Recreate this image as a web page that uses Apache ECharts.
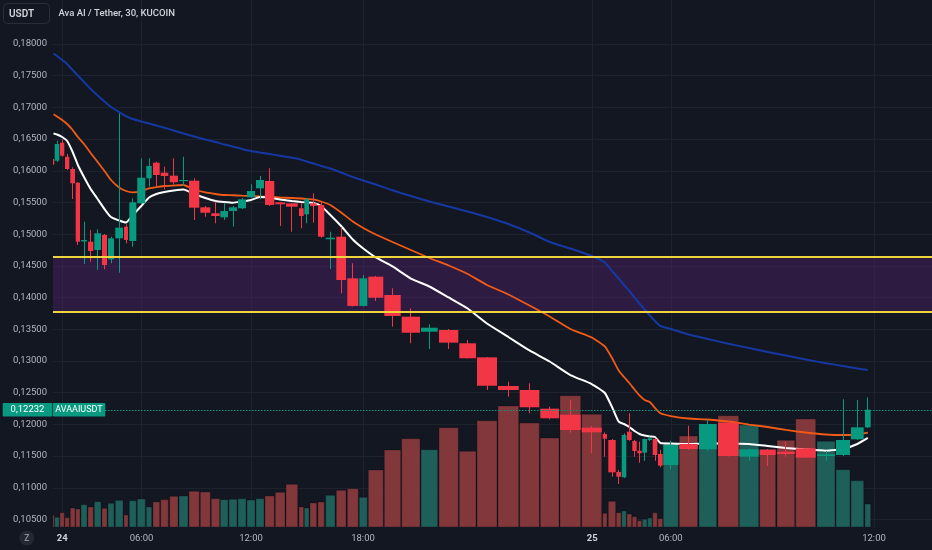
<!DOCTYPE html>
<html><head><meta charset="utf-8">
<script src="https://cdn.jsdelivr.net/npm/echarts@6/dist/echarts.min.js"></script>
<style>html,body{margin:0;padding:0;background:#131722;}#c{width:932px;height:550px;}</style>
</head><body><div id="c"></div>
<script>
// Bar slot positions along the (irregular) horizontal axis, left and right edges
const barLeft = [52.7,54.7,60,65,70.3,75.7,81,88,94.3,102,108,115.3,124,129.3,137.3,146.3,153,160.7,169.7,179,189,200.3,211.3,220.3,229,238,247,256,265,275.3,286,299,304.3,310,318,325.7,336.3,347.3,359.3,368.3,384.3,401.7,421,439,459.3,477,498,519.7,540.3,560,581.7,602.7,608.3,616.3,621.7,627,632.3,637.3,642.3,647.7,652.7,658,663.3,679.3,699,718,739.3,759.7,777,795.7,817,836,851,865];
const barRight = [54.3,59.3,64.3,69.3,75,80,87,93.3,101,107,114,123,128,136.3,145.3,151.7,159.7,168.3,178,188,199.3,210.3,219.7,228,237,246,255,264,274.3,285,297.7,303.7,309,316.7,324.3,335,346,358.3,367.3,383.3,400.7,420,437.7,458.3,476,497,518.7,539.3,559,580.7,601.7,607,615.7,621,626.3,631.7,636.7,641.7,647,652,657.3,662.7,678.3,697.7,716.7,738.7,758.7,775.7,794.7,815.7,835,850,863.7,870.7];

const open = [0.16170,0.16159,0.16443,0.16222,0.16028,0.15812,0.14885,0.14882,0.14751,0.14987,0.14604,0.14935,0.15118,0.14893,0.15487,0.15882,0.16128,0.15970,0.15923,0.15839,0.15844,0.15424,0.15330,0.15267,0.15366,0.15409,0.15582,0.15724,0.15839,0.15503,0.15487,0.15409,0.15314,0.15487,0.15461,0.14920,0.14961,0.14304,0.13868,0.14330,0.14041,0.13699,0.13462,0.13489,0.13279,0.13058,0.12606,0.12543,0.12248,0.12153,0.11948,0.11849,0.11754,0.11249,0.11166,0.11885,0.11738,0.11585,0.11554,0.11754,0.11770,0.11533,0.11360,0.11691,0.11607,0.12027,0.11491,0.11601,0.11569,0.11623,0.11502,0.11517,0.11765,0.11954];
const close = [0.16107,0.16423,0.16238,0.16028,0.15803,0.14882,0.14909,0.14735,0.15014,0.14514,0.14935,0.15103,0.14909,0.15503,0.15891,0.16076,0.15934,0.15918,0.15819,0.15855,0.15418,0.15339,0.15287,0.15366,0.15424,0.15550,0.15681,0.15855,0.15461,0.15472,0.15434,0.15287,0.15550,0.15445,0.14961,0.14945,0.14278,0.13868,0.14304,0.13998,0.13710,0.13446,0.13525,0.13289,0.13043,0.12610,0.12543,0.12270,0.12096,0.11912,0.11875,0.11774,0.11244,0.11175,0.11833,0.11754,0.11580,0.11544,0.11770,0.11781,0.11517,0.11349,0.11675,0.11612,0.12006,0.11502,0.11607,0.11517,0.11533,0.11475,0.11528,0.11754,0.11954,0.12232];
const low = [0.16092,0.16139,0.16222,0.16013,0.15555,0.14830,0.14530,0.14566,0.14435,0.14446,0.14541,0.14393,0.14856,0.14803,0.15476,0.15749,0.15760,0.15708,0.15787,0.15760,0.15224,0.15276,0.15172,0.15224,0.15121,0.15397,0.15571,0.15550,0.15445,0.15129,0.15039,0.15093,0.15172,0.15181,0.14945,0.14451,0.14068,0.13860,0.13860,0.13946,0.13541,0.13279,0.13189,0.13189,0.13039,0.12543,0.12437,0.12175,0.12080,0.11869,0.11544,0.11491,0.11175,0.11060,0.11155,0.11743,0.11491,0.11396,0.11423,0.11738,0.11427,0.11323,0.11292,0.11596,0.11585,0.11494,0.11423,0.11344,0.11491,0.11470,0.11427,0.11502,0.11754,0.11943];
const high = [0.16186,0.16475,0.16497,0.16265,0.16055,0.15823,0.15197,0.15066,0.15077,0.15003,0.14961,0.16907,0.15156,0.15566,0.16197,0.16197,0.16144,0.16065,0.16197,0.16222,0.15882,0.15445,0.15513,0.15497,0.15445,0.15571,0.15787,0.15918,0.16039,0.15508,0.15492,0.15492,0.15571,0.15645,0.15513,0.15039,0.15109,0.14541,0.14356,0.14341,0.14147,0.13831,0.13579,0.13505,0.13331,0.13063,0.12673,0.12648,0.12279,0.12385,0.11975,0.11875,0.11770,0.11281,0.11860,0.12175,0.11754,0.11727,0.11778,0.11806,0.11778,0.11596,0.11743,0.11980,0.12080,0.12058,0.11620,0.11612,0.11727,0.11628,0.11580,0.12396,0.12385,0.12427];
const volume = [12,9.7,14.3,9.3,19,18,22.3,20,25.3,18.7,23.7,26.7,12,26.3,28,20,25,27.3,30.7,31,35.7,35,28.3,27.3,27.7,28.3,27,28.3,31,34.7,42.7,20,19,24,25,31.7,36.7,38.3,29.7,57,77,88.3,77.3,99.3,75.7,106.3,121,104,89,131.3,112.7,13.7,25.7,14.3,16,13,10.3,6.3,7.7,9,14.3,8.3,83.7,91,88.3,111.3,102,77.7,86.7,108,85.7,57.3,46.3,23];

const maBlue = [0.17850,0.17811,0.17748,0.17685,0.17590,0.17503,0.17401,0.17290,0.17188,0.17093,0.17006,0.16927,0.16864,0.16817,0.16778,0.16746,0.16715,0.16678,0.16636,0.16588,0.16541,0.16494,0.16454,0.16415,0.16383,0.16344,0.16312,0.16289,0.16265,0.16237,0.16205,0.16174,0.16147,0.16115,0.16076,0.16036,0.15973,0.15902,0.15847,0.15784,0.15692,0.15603,0.15516,0.15437,0.15358,0.15271,0.15161,0.15027,0.14877,0.14774,0.14656,0.14554,0.14420,0.14301,0.14199,0.14104,0.14002,0.13907,0.13812,0.13718,0.13631,0.13552,0.13505,0.13418,0.13347,0.13273,0.13205,0.13142,0.13087,0.13024,0.12965,0.12921,0.12882,0.12858];
const maOrange = [0.16891,0.16856,0.16801,0.16738,0.16643,0.16533,0.16423,0.16281,0.16139,0.15997,0.15855,0.15737,0.15681,0.15661,0.15681,0.15721,0.15744,0.15760,0.15768,0.15776,0.15705,0.15658,0.15634,0.15618,0.15614,0.15607,0.15603,0.15595,0.15587,0.15579,0.15571,0.15563,0.15555,0.15550,0.15516,0.15461,0.15342,0.15200,0.15098,0.14995,0.14877,0.14751,0.14625,0.14506,0.14372,0.14199,0.14049,0.13875,0.13702,0.13505,0.13371,0.13229,0.13047,0.12850,0.12748,0.12653,0.12550,0.12456,0.12385,0.12353,0.12259,0.12175,0.12132,0.12093,0.12077,0.12046,0.11998,0.11959,0.11912,0.11872,0.11841,0.11833,0.11841,0.11872];
const maWhite = [0.16588,0.16573,0.16533,0.16470,0.16297,0.16092,0.15902,0.15713,0.15555,0.15397,0.15271,0.15216,0.15185,0.15303,0.15445,0.15579,0.15634,0.15666,0.15689,0.15705,0.15634,0.15571,0.15524,0.15508,0.15497,0.15516,0.15539,0.15587,0.15579,0.15547,0.15524,0.15508,0.15500,0.15492,0.15445,0.15303,0.15129,0.14916,0.14774,0.14633,0.14491,0.14301,0.14175,0.14002,0.13828,0.13591,0.13379,0.13166,0.12992,0.12779,0.12637,0.12495,0.12274,0.12043,0.12006,0.11959,0.11896,0.11849,0.11825,0.11809,0.11801,0.11707,0.11699,0.11691,0.11699,0.11699,0.11691,0.11659,0.11628,0.11604,0.11585,0.11612,0.11691,0.11786];

const levelHigh = 0.14645;
const levelLow = 0.13778;

const timeTickPos = [62.3, 141.5, 251, 363, 592.3, 670.8, 874];
const timeTickLabels = ['24', '06:00', '12:00', '18:00', '25', '06:00', '12:00'];
const dayLabels = ['24', '25'];
const priceTicks = [0.105,0.11,0.115,0.12,0.125,0.13,0.135,0.14,0.145,0.15,0.155,0.16,0.165,0.17,0.175,0.18];

const symbolName = 'AVAAIUSDT';
const titleText = 'Ava AI / Tether, 30, KUCOIN';
const currency = 'USDT';

const UP = '#089981', DOWN = '#f23645';
const VOL_UP = '#1e5f59', VOL_DOWN = '#82373b';
const FONT = 'Roboto, "Noto Sans", sans-serif';

const chart = echarts.init(document.getElementById('c'), null, {renderer: 'canvas'});

const candleData = open.map((o, i) => [barLeft[i], barRight[i], o, close[i], low[i], high[i]]);
const volData = volume.map((v, i) => [barLeft[i], barRight[i], v, close[i] >= open[i] ? 1 : -1]);
const centers = barLeft.map((l, i) => (l + barRight[i]) / 2);
const lineData = arr => arr.map((v, i) => [centers[i], v]);
const fmtPrice = v => v.toFixed(5).replace('.', ',');

function renderCandle(params, api) {
  const l = api.value(0), r = api.value(1), o = api.value(2), c = api.value(3), lo = api.value(4), hi = api.value(5);
  const pa = api.coord([l, o]), pb = api.coord([r, c]);
  const ph = api.coord([l, hi]), pl = api.coord([l, lo]);
  const color = c >= o ? UP : DOWN;
  const x0 = pa[0], x1 = pb[0];
  const yTop = Math.min(pa[1], pb[1]), yBot = Math.max(pa[1], pb[1]);
  const xm = Math.floor((x0 + x1) / 2) + 0.5;
  return {
    type: 'group',
    children: [
      {type: 'line', shape: {x1: xm, y1: ph[1], x2: xm, y2: pl[1]}, style: {stroke: color, lineWidth: 1}},
      {type: 'rect', shape: {x: x0, y: yTop, width: x1 - x0, height: Math.max(1.2, yBot - yTop)}, style: {fill: color}}
    ]
  };
}
function renderVol(params, api) {
  const l = api.value(0), r = api.value(1), v = api.value(2), d = api.value(3);
  const pa = api.coord([l, v]), pb = api.coord([r, 0]);
  return {
    type: 'rect',
    shape: {x: pa[0], y: pa[1], width: pb[0] - pa[0], height: pb[1] - pa[1]},
    style: {fill: d > 0 ? VOL_UP : VOL_DOWN, stroke: 'rgba(10,12,18,0.35)', lineWidth: 0.8}
  };
}

const option = {
  backgroundColor: '#131722',
  animation: false,
  textStyle: {fontFamily: FONT},
  grid: {left: 53, right: 0, top: 0, bottom: 23, containLabel: false},
  xAxis: {
    type: 'value', min: 53, max: 932,
    axisLine: {show: false},
    axisTick: {show: false, customValues: timeTickPos},
    axisLabel: {
      customValues: timeTickPos, margin: 7, color: '#b2b5be', fontSize: 9.5, fontFamily: FONT,
      formatter: v => {
        let idx = 0, best = 1e9;
        timeTickPos.forEach((p, i) => { if (Math.abs(p - v) < best) { best = Math.abs(p - v); idx = i; } });
        const t = timeTickLabels[idx];
        return dayLabels.includes(t) ? '{b|' + t + '}' : t;
      },
      rich: {b: {fontWeight: 'bold', color: '#d1d4dc', fontSize: 9.5, fontFamily: FONT}}
    },
    splitLine: {show: true, lineStyle: {color: '#1e222d', width: 1}}
  },
  yAxis: [{
    type: 'value', position: 'left',
    min: 0.103817, max: 0.18694,
    axisLine: {show: false},
    axisTick: {show: false, customValues: priceTicks},
    axisLabel: {customValues: priceTicks, formatter: fmtPrice, color: '#b2b5be', fontSize: 9.5, margin: 6, fontFamily: FONT},
    splitLine: {show: true, lineStyle: {color: '#1e222d', width: 1}}
  }, {
    type: 'value', min: 0, max: 527, show: false,
    axisLabel: {show: false}, splitLine: {show: false}, axisTick: {show: false}, axisLine: {show: false}
  }],
  series: [
    {
      name: 'band', type: 'line', data: [], z: 1, silent: true,
      markArea: {silent: true, itemStyle: {color: 'rgba(110,38,140,0.30)'}, data: [[{yAxis: levelHigh}, {yAxis: levelLow}]]}
    },
    {
      name: 'Volume', type: 'custom', yAxisIndex: 1, z: 1, clip: true,
      renderItem: renderVol, data: volData, encode: {x: [0, 1], y: 2}
    },
    {name: 'MA long', type: 'line', data: lineData(maBlue), showSymbol: false, z: 2, smooth: 0.15,
      lineStyle: {color: '#1538a3', width: 2}},
    {name: 'MA mid', type: 'line', data: lineData(maOrange), showSymbol: false, z: 2, smooth: 0.15,
      lineStyle: {color: '#f25a16', width: 1.8}},
    {name: 'MA short', type: 'line', data: lineData(maWhite), showSymbol: false, z: 2, smooth: 0.15,
      lineStyle: {color: '#ffffff', width: 2}},
    {
      name: 'Price', type: 'custom', z: 3, clip: true,
      renderItem: renderCandle, data: candleData, encode: {x: [0, 1], y: [2, 3, 4, 5]}
    },
    {
      name: 'levels', type: 'line', data: [], z: 4, silent: true,
      markLine: {
        silent: true, precision: 6, symbol: ['none', 'none'], label: {show: false},
        lineStyle: {color: '#f0d43c', width: 2, type: 'solid'},
        emphasis: {disabled: true},
        data: [
          {yAxis: levelHigh},
          {yAxis: levelLow}
        ]
      }
    }
  ]
};
chart.setOption(option);

const last = close[close.length - 1];
const py = chart.convertToPixel({yAxisIndex: 0}, last);
const lineY = Math.round(py) + 0.5;
chart.setOption({
  graphic: {elements: [
    {type: 'line', z: 50, shape: {x1: 105, y1: lineY, x2: 932, y2: lineY}, style: {stroke: '#089981', lineWidth: 1, lineDash: [1.5, 1.5]}},
    {type: 'rect', z: 100, shape: {x: 3.5, y: 3.5, width: 46, height: 20, r: 4}, style: {fill: '#131722', stroke: '#2a2e39', lineWidth: 1}},
    {type: 'text', z: 101, style: {x: 9, y: 14, text: currency, font: '600 10px ' + FONT, fill: '#d1d4dc', textAlign: 'left', textVerticalAlign: 'middle', verticalAlign: 'middle'}},
    {type: 'text', z: 101, style: {x: 58.5, y: 13.5, text: titleText, font: '500 9.5px ' + FONT, fill: '#d1d4dc', textAlign: 'left', textVerticalAlign: 'middle', verticalAlign: 'middle'}},
    {type: 'rect', z: 100, shape: {x: 2.7, y: py - 6.7, width: 49.6, height: 13.4, r: 1}, style: {fill: '#089981'}},
    {type: 'text', z: 101, style: {x: 27.5, y: py, text: fmtPrice(last), font: '9.5px ' + FONT, fill: '#ffffff', textAlign: 'center', align: 'center', textVerticalAlign: 'middle', verticalAlign: 'middle'}},
    {type: 'rect', z: 100, shape: {x: 52.9, y: py - 6.7, width: 52.4, height: 13.4, r: 1}, style: {fill: '#089981'}},
    {type: 'text', z: 101, style: {x: 79, y: py, text: symbolName, font: '9px ' + FONT, fill: '#ffffff', textAlign: 'center', align: 'center', textVerticalAlign: 'middle', verticalAlign: 'middle'}},
    {type: 'circle', z: 100, shape: {cx: 26.7, cy: 538, r: 7.5}, style: {fill: '#242833'}},
    {type: 'text', z: 101, style: {x: 26.7, y: 538.5, text: 'Z', font: '600 8.5px ' + FONT, fill: '#8a8d98', textAlign: 'center', align: 'center', textVerticalAlign: 'middle', verticalAlign: 'middle'}}
  ]}
});
</script></body></html>
